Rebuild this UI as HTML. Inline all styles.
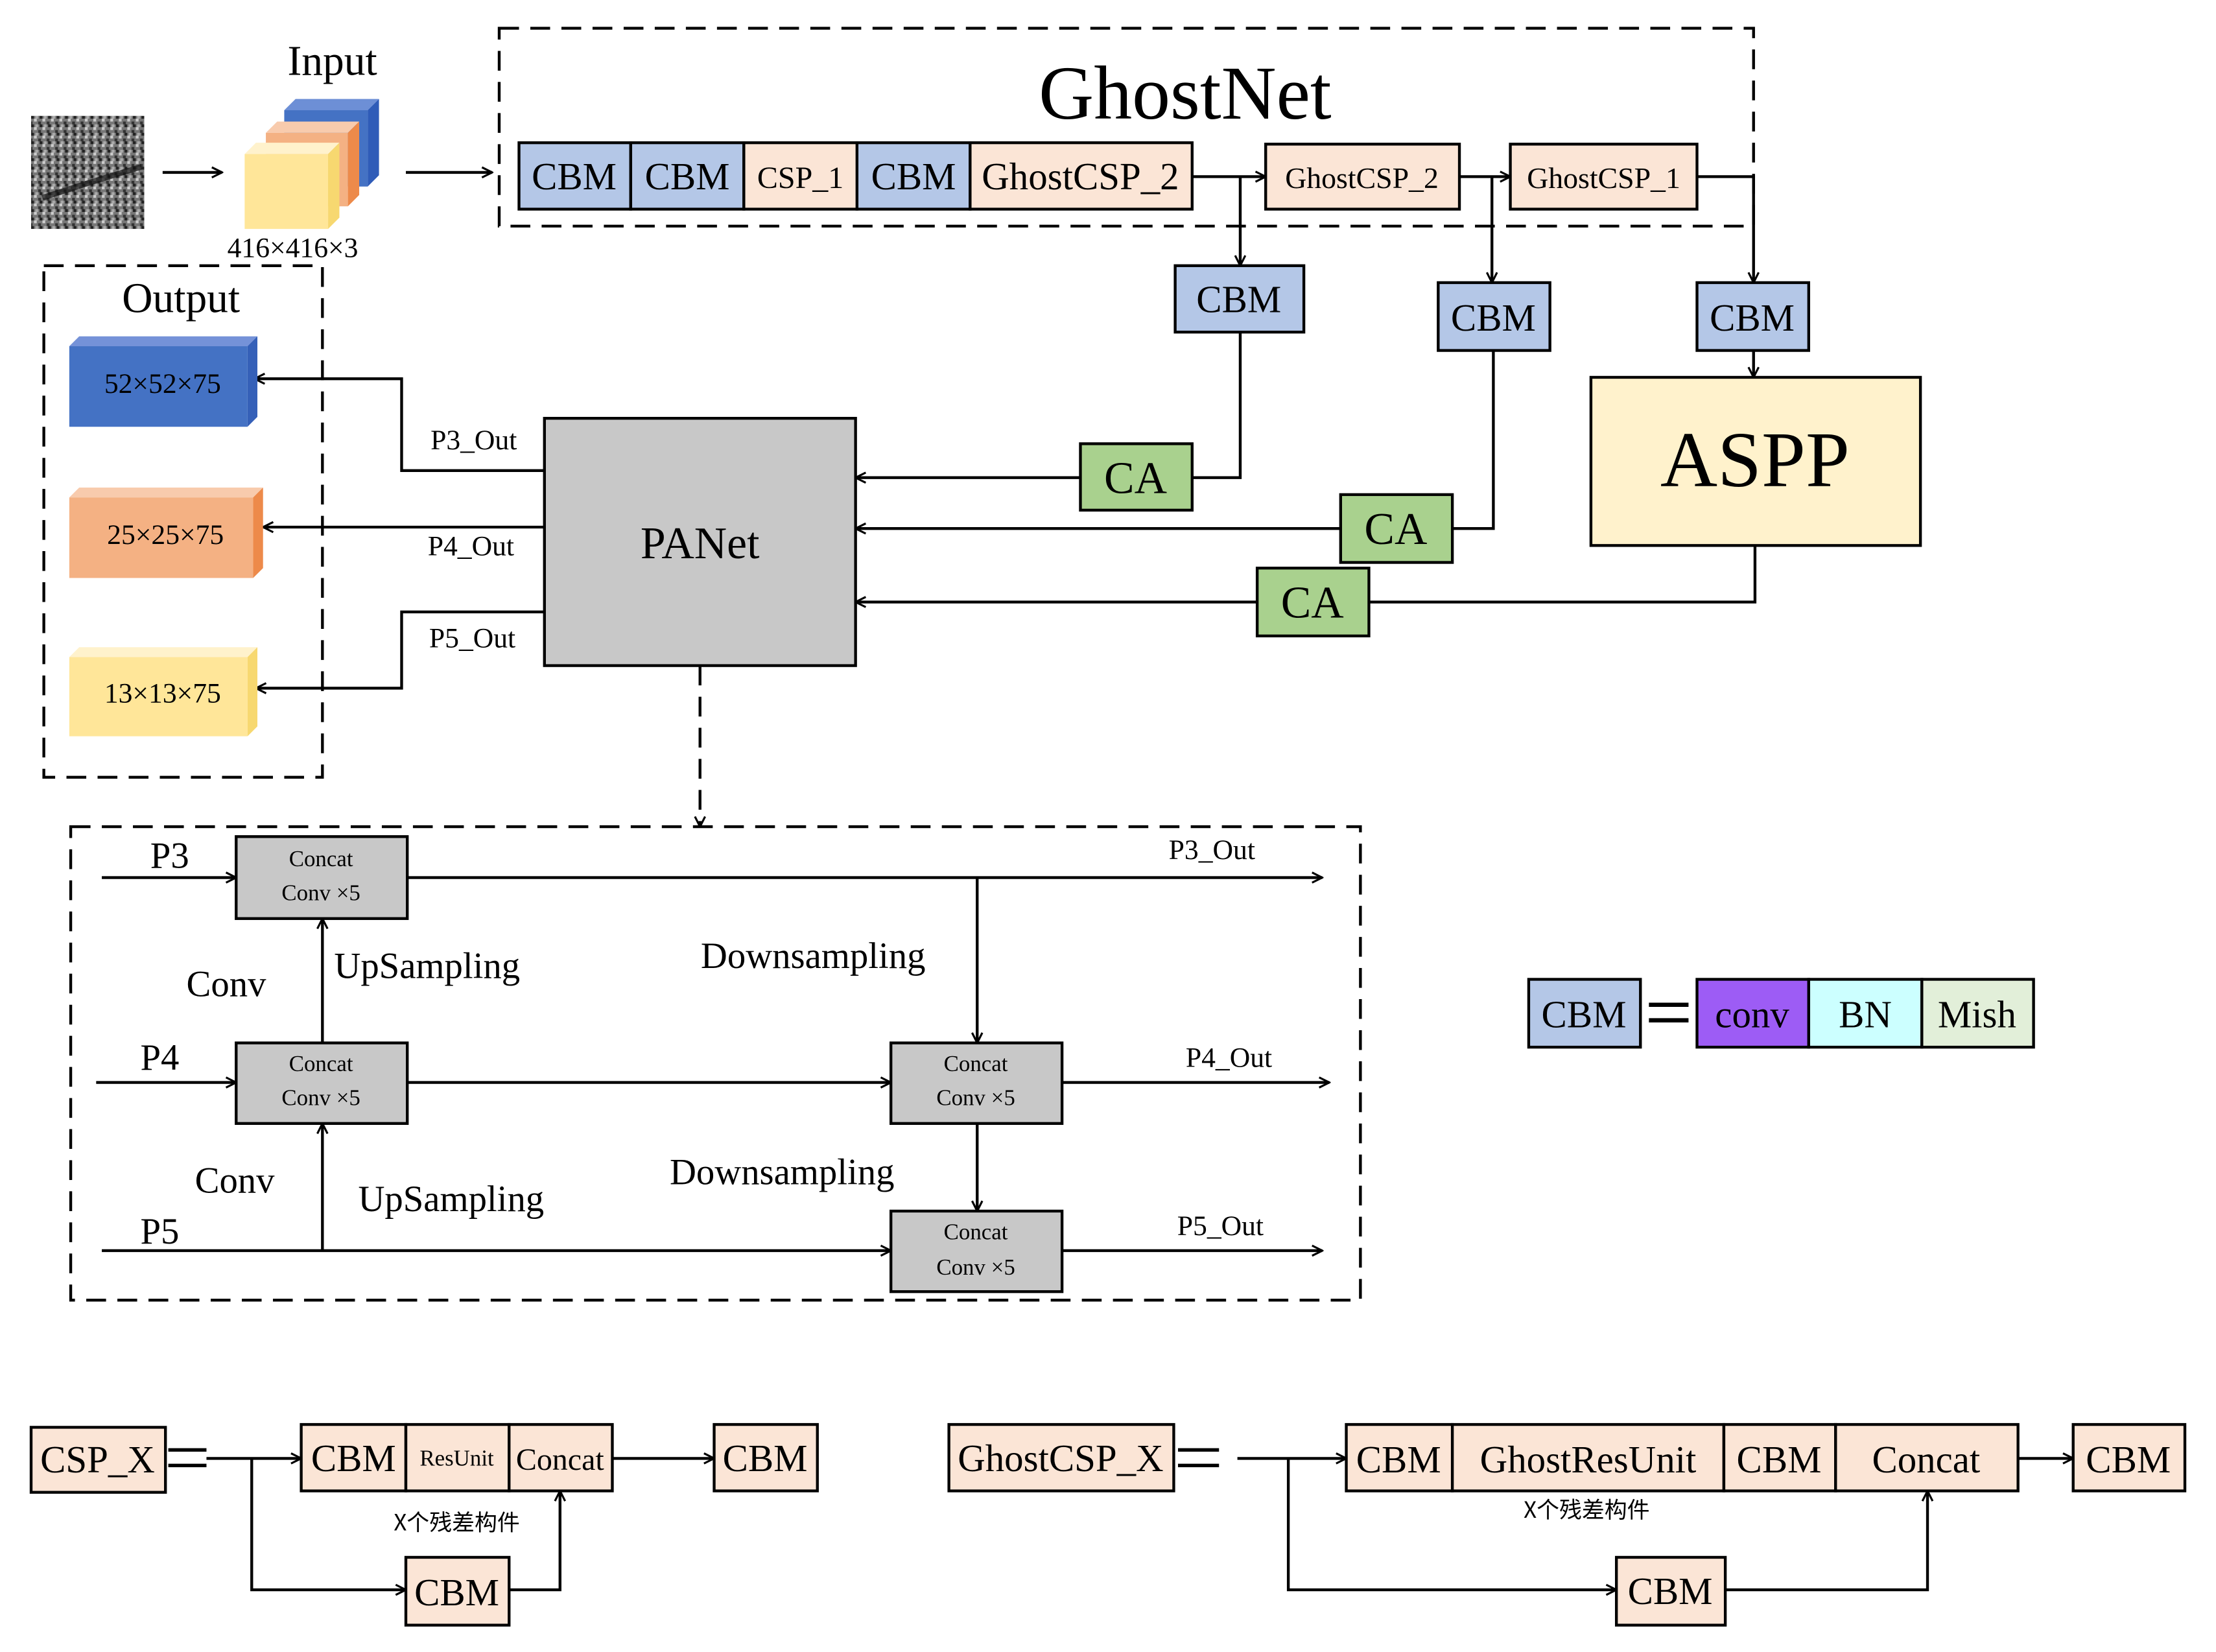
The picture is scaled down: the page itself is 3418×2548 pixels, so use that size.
<!DOCTYPE html>
<html><head><meta charset="utf-8"><style>html,body{margin:0;padding:0;background:#fff}svg{display:block}</style></head>
<body>
<svg width="3418" height="2548" viewBox="0 0 1567 1169" preserveAspectRatio="none" xmlns="http://www.w3.org/2000/svg" font-family="'Liberation Serif','Noto Serif CJK SC',serif">
<defs>
<marker id="a" viewBox="0 0 10 10" refX="9" refY="5" markerWidth="9" markerHeight="9" markerUnits="userSpaceOnUse" orient="auto"><path d="M1,1 L9,5 L1,9" fill="none" stroke="#000" stroke-width="1.6"/></marker>
<pattern id="nz" width="6" height="6" patternUnits="userSpaceOnUse"><rect width="6" height="6" fill="#777"/><rect x="0" y="0" width="2" height="2" fill="#ccc"/><rect x="3" y="2" width="2" height="2" fill="#333"/><rect x="1" y="4" width="2" height="2" fill="#aaa"/><rect x="4" y="4" width="2" height="2" fill="#222"/></pattern>
</defs>
<g stroke="#000" fill="none" stroke-width="2">
<rect x="22" y="82" width="80" height="80" fill="url(#nz)" stroke="none"/>
<path d="M30,140 Q60,130 100,118" stroke="#111" stroke-width="4" opacity="0.7"/>
<line x1="115" y1="122" x2="157" y2="122" marker-end="url(#a)"/>
<g stroke="none">
<polygon points="201,78 209,70 268,70 260,78" fill="#6d8fd6"/><polygon points="260,78 268,70 268,124 260,132" fill="#2f5cb8"/><rect x="201" y="78" width="59" height="54" fill="#4472c4"/>
<polygon points="188,94 196,86 254,86 246,94" fill="#f8cbad"/><polygon points="246,94 254,86 254,138 246,146" fill="#ed8a4a"/><rect x="188" y="94" width="58" height="52" fill="#f4b183"/>
<polygon points="173,109 181,101 240,101 232,109" fill="#fff2cc"/><polygon points="232,109 240,101 240,154 232,162" fill="#f7d870"/><rect x="173" y="109" width="59" height="53" fill="#ffe699"/>
</g>
<line x1="287" y1="122" x2="348" y2="122" marker-end="url(#a)"/>
<rect x="353" y="20" width="887" height="140" stroke-dasharray="14,8"/>
<g fill="#b4c7e7"><rect x="367" y="101" width="79" height="47"/><rect x="446" y="101" width="80" height="47"/><rect x="606" y="101" width="80" height="47"/></g>
<g fill="#fbe5d6"><rect x="526" y="101" width="80" height="47"/><rect x="686" y="101" width="157" height="47"/><rect x="895" y="102" width="137" height="46"/><rect x="1068" y="102" width="132" height="46"/></g>
<line x1="843" y1="125" x2="895" y2="125" marker-end="url(#a)"/>
<line x1="1032" y1="125" x2="1068" y2="125" marker-end="url(#a)"/>
<polyline points="1200,125 1240,125 1240,200" marker-end="url(#a)"/>
<line x1="877" y1="125" x2="877" y2="188" marker-end="url(#a)"/>
<line x1="1055" y1="125" x2="1055" y2="200" marker-end="url(#a)"/>
<g fill="#b4c7e7"><rect x="831" y="188" width="91" height="47"/><rect x="1017" y="200" width="79" height="48"/><rect x="1200" y="200" width="79" height="48"/></g>
<line x1="1240" y1="248" x2="1240" y2="267" marker-end="url(#a)"/>
<rect x="1125" y="267" width="233" height="119" fill="#fff2cc"/>
<polyline points="877,235 877,338 843,338"/>
<polyline points="1056,248 1056,374 1027,374"/>
<polyline points="1241,386 1241,426 968,426"/>
<g fill="#a9d18e"><rect x="764" y="314" width="79" height="47"/><rect x="948" y="350" width="79" height="48"/><rect x="889" y="402" width="79" height="48"/></g>
<line x1="764" y1="338" x2="605" y2="338" marker-end="url(#a)"/>
<line x1="948" y1="374" x2="605" y2="374" marker-end="url(#a)"/>
<line x1="889" y1="426" x2="605" y2="426" marker-end="url(#a)"/>
<rect x="385" y="296" width="220" height="175" fill="#c8c8c8"/>
<polyline points="385,333 284,333 284,268 180,268" marker-end="url(#a)"/>
<line x1="385" y1="373" x2="186" y2="373" marker-end="url(#a)"/>
<polyline points="385,433 284,433 284,487 181,487" marker-end="url(#a)"/>
<rect x="31" y="188" width="197" height="362" stroke-dasharray="14,8"/>
<g stroke="none">
<polygon points="49,245 56,238 182,238 175,245" fill="#7592d8"/><polygon points="175,245 182,238 182,295 175,302" fill="#3560b8"/><rect x="49" y="245" width="126" height="57" fill="#4472c4"/>
<polygon points="49,352 56,345 186,345 179,352" fill="#f8cbad"/><polygon points="179,352 186,345 186,402 179,409" fill="#ed8a4a"/><rect x="49" y="352" width="130" height="57" fill="#f4b183"/>
<polygon points="49,465 56,458 182,458 175,465" fill="#fff2cc"/><polygon points="175,465 182,458 182,514 175,521" fill="#f7d870"/><rect x="49" y="465" width="126" height="56" fill="#ffe699"/>
</g>
<line x1="495" y1="471" x2="495" y2="585" stroke-dasharray="14,8" marker-end="url(#a)"/>
<rect x="50" y="585" width="912" height="335" stroke-dasharray="14,8"/>
<g fill="#c8c8c8"><rect x="167" y="592" width="121" height="58"/><rect x="167" y="738" width="121" height="57"/><rect x="630" y="738" width="121" height="57"/><rect x="630" y="857" width="121" height="57"/></g>
<line x1="72" y1="621" x2="167" y2="621" marker-end="url(#a)"/>
<line x1="288" y1="621" x2="935" y2="621" marker-end="url(#a)"/>
<line x1="691" y1="621" x2="691" y2="738" marker-end="url(#a)"/>
<line x1="68" y1="766" x2="167" y2="766" marker-end="url(#a)"/>
<line x1="288" y1="766" x2="630" y2="766" marker-end="url(#a)"/>
<line x1="751" y1="766" x2="940" y2="766" marker-end="url(#a)"/>
<line x1="228" y1="738" x2="228" y2="650" marker-end="url(#a)"/>
<line x1="228" y1="885" x2="228" y2="795" marker-end="url(#a)"/>
<line x1="691" y1="795" x2="691" y2="857" marker-end="url(#a)"/>
<line x1="72" y1="885" x2="630" y2="885" marker-end="url(#a)"/>
<line x1="751" y1="885" x2="935" y2="885" marker-end="url(#a)"/>
<rect x="1081" y="693" width="79" height="48" fill="#b4c7e7"/>
<rect x="1200" y="693" width="79" height="48" fill="#9d5cf5"/>
<rect x="1279" y="693" width="80" height="48" fill="#ccffff"/>
<rect x="1359" y="693" width="79" height="48" fill="#e2efd9"/>
<line x1="1166" y1="711" x2="1194" y2="711" stroke-width="3"/><line x1="1166" y1="722" x2="1194" y2="722" stroke-width="3"/>
<g fill="#fbe5d6"><rect x="22" y="1010" width="95" height="46"/><rect x="213" y="1008" width="74" height="47"/><rect x="287" y="1008" width="73" height="47"/><rect x="360" y="1008" width="73" height="47"/><rect x="505" y="1008" width="73" height="47"/><rect x="287" y="1102" width="73" height="48"/></g>
<line x1="119" y1="1026" x2="146" y2="1026" stroke-width="2.5"/><line x1="119" y1="1037" x2="146" y2="1037" stroke-width="2.5"/>
<line x1="146" y1="1032" x2="213" y2="1032" marker-end="url(#a)"/>
<line x1="433" y1="1032" x2="505" y2="1032" marker-end="url(#a)"/>
<polyline points="178,1032 178,1125 287,1125" marker-end="url(#a)"/>
<polyline points="360,1125 396,1125 396,1055" marker-end="url(#a)"/>
<g fill="#fbe5d6"><rect x="671" y="1008" width="159" height="47"/><rect x="952" y="1008" width="75" height="47"/><rect x="1027" y="1008" width="192" height="47"/><rect x="1219" y="1008" width="79" height="47"/><rect x="1298" y="1008" width="129" height="47"/><rect x="1466" y="1008" width="79" height="47"/><rect x="1143" y="1102" width="77" height="48"/></g>
<line x1="833" y1="1026" x2="862" y2="1026" stroke-width="2.5"/><line x1="833" y1="1037" x2="862" y2="1037" stroke-width="2.5"/>
<line x1="875" y1="1032" x2="952" y2="1032" marker-end="url(#a)"/>
<line x1="1427" y1="1032" x2="1466" y2="1032" marker-end="url(#a)"/>
<polyline points="911,1032 911,1125 1143,1125" marker-end="url(#a)"/>
<polyline points="1220,1125 1363,1125 1363,1055" marker-end="url(#a)"/>
</g>
<g fill="#000" text-anchor="middle">
<text x="235" y="53" font-size="30">Input</text>
<text x="207" y="182" font-size="20">416×416×3</text>
<text x="838" y="84" font-size="54">GhostNet</text>
<g font-size="27"><text x="406" y="134">CBM</text><text x="486" y="134">CBM</text><text x="646" y="134">CBM</text><text x="764" y="134">GhostCSP_2</text></g>
<text x="566" y="133" font-size="22">CSP_1</text>
<text x="963" y="133" font-size="21">GhostCSP_2</text>
<text x="1134" y="133" font-size="21">GhostCSP_1</text>
<g font-size="27"><text x="876" y="221">CBM</text><text x="1056" y="234">CBM</text><text x="1239" y="234">CBM</text></g>
<text x="1241" y="344" font-size="56">ASPP</text>
<g font-size="32"><text x="803" y="349">CA</text><text x="987" y="385">CA</text><text x="928" y="437">CA</text></g>
<text x="495" y="395" font-size="32">PANet</text>
<g font-size="20"><text x="335" y="318">P3_Out</text><text x="333" y="393">P4_Out</text><text x="334" y="458">P5_Out</text></g>
<text x="128" y="221" font-size="30">Output</text>
<g font-size="20"><text x="115" y="278">52×52×75</text><text x="117" y="385">25×25×75</text><text x="115" y="497">13×13×75</text></g>
<g font-size="16"><text x="227" y="613">Concat</text><text x="227" y="637">Conv ×5</text><text x="227" y="758">Concat</text><text x="227" y="782">Conv ×5</text><text x="690" y="758">Concat</text><text x="690" y="782">Conv ×5</text><text x="690" y="877">Concat</text><text x="690" y="902">Conv ×5</text></g>
<g font-size="20"><text x="857" y="608">P3_Out</text><text x="869" y="755">P4_Out</text><text x="863" y="874">P5_Out</text></g>
<g font-size="26"><text x="120" y="614">P3</text><text x="160" y="705">Conv</text><text x="302" y="692">UpSampling</text><text x="575" y="685">Downsampling</text><text x="113" y="757">P4</text><text x="166" y="844">Conv</text><text x="319" y="857">UpSampling</text><text x="553" y="838">Downsampling</text><text x="113" y="880">P5</text></g>
<g font-size="27"><text x="1120" y="727">CBM</text><text x="1239" y="727">conv</text><text x="1319" y="727">BN</text><text x="1398" y="727">Mish</text></g>
<g font-size="27"><text x="69" y="1042">CSP_X</text><text x="250" y="1041">CBM</text><text x="396" y="1040" font-size="22">Concat</text><text x="541" y="1041">CBM</text><text x="323" y="1136">CBM</text></g>
<text x="323" y="1037" font-size="16">ResUnit</text>
<text x="323" y="1083" font-size="16" font-family="'Noto Sans CJK SC',sans-serif">X个残差构件</text>
<g font-size="27"><text x="750" y="1041">GhostCSP_X</text><text x="989" y="1042">CBM</text><text x="1123" y="1042">GhostResUnit</text><text x="1258" y="1042">CBM</text><text x="1362" y="1042">Concat</text><text x="1505" y="1042">CBM</text><text x="1181" y="1135">CBM</text></g>
<text x="1122" y="1074" font-size="16" font-family="'Noto Sans CJK SC',sans-serif">X个残差构件</text>
</g>
</svg>
</body></html>
